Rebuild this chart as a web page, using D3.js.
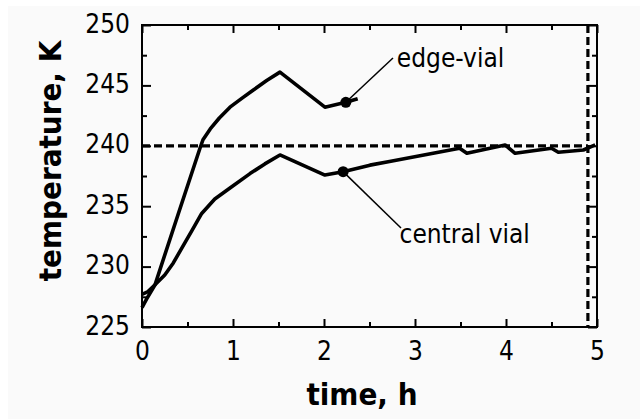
<!DOCTYPE html>
<html><head><meta charset="utf-8">
<script src="https://cdn.jsdelivr.net/npm/d3@7"></script>
<style>
html,body{margin:0;padding:0;background:#fff;}
svg{display:block;}
text{font-family:"DejaVu Sans Condensed","DejaVu Sans",sans-serif;fill:#000;}
</style></head><body>
<svg id="c" width="640" height="419"></svg>
<script>
// ---- data ----
const edgeTime = [0, 0.05, 0.143, 0.4, 0.637, 0.67, 0.75, 0.85, 0.967, 1.1, 1.22, 1.37, 1.516, 2.01, 2.24, 2.37];
const edgeTemp = [226.6, 227.3, 228.5, 234.4, 239.8, 240.5, 241.4, 242.3, 243.2, 243.95, 244.6, 245.4, 246.1, 243.2, 243.6, 243.9];
const centralTime = [0, 0.06, 0.143, 0.25, 0.344, 0.45, 0.55, 0.656, 0.8, 0.967, 1.187, 1.35, 1.516, 2.01, 2.21, 2.505, 2.72, 3.49, 3.57, 3.99, 4.10, 4.50, 4.575, 4.85, 4.98];
const centralTemp = [227.7, 227.9, 228.5, 229.3, 230.3, 231.7, 233.0, 234.4, 235.6, 236.5, 237.7, 238.5, 239.24, 237.58, 237.86, 238.4, 238.7, 239.8, 239.38, 240.07, 239.38, 239.8, 239.46, 239.65, 240.07];
const markerTime = [2.24, 2.21];
const markerTemp = [243.6, 237.86];
const labelText = ["edge-vial", "central vial"];
const labelTime = [2.80, 2.83];
const labelTemp = [246.5, 231.95];
const leaderTime = [2.758, 2.846];
const leaderTemp = [247.27, 233.2];
const refTemp = 240;
const refTime = 4.9;
const xTicks = [0, 1, 2, 3, 4, 5];
const yTicks = [225, 230, 235, 240, 245, 250];
const xMinor = [0.5, 1.5, 2.5, 3.5, 4.5];
const yMinor = [227.5, 232.5, 237.5, 242.5, 247.5];
const xTitle = "time, h";
const yTitle = "temperature, K";

// ---- layout ----
const svg = d3.select("#c");
svg.append("rect").attr("x", 8).attr("y", 6).attr("width", 632).attr("height", 413).attr("fill", "#fafafa");
const L = 142, R = 597, T = 25, B = 327;
const x = d3.scaleLinear().domain([0, 5]).range([L, R]);
const y = d3.scaleLinear().domain([225, 250]).range([B, T]);

// reference dashed lines
svg.append("line").attr("x1", x(0)).attr("x2", x(refTime)).attr("y1", y(refTemp)).attr("y2", y(refTemp))
  .attr("stroke", "#000").attr("stroke-width", 3.2).attr("stroke-dasharray", "8,4");
svg.append("line").attr("x1", x(refTime)).attr("x2", x(refTime)).attr("y1", T).attr("y2", B)
  .attr("stroke", "#000").attr("stroke-width", 3.2).attr("stroke-dasharray", "8,4");

// curves
const line = d3.line().x(d => x(d[0])).y(d => y(d[1]));
const edge = edgeTime.map((t, i) => [t, edgeTemp[i]]);
const central = centralTime.map((t, i) => [t, centralTemp[i]]);
[edge, central].forEach(s => {
  svg.append("path").attr("d", line(s)).attr("fill", "none").attr("stroke", "#000")
    .attr("stroke-width", 3.6).attr("stroke-linejoin", "round");
});

// leaders, markers, labels
markerTime.forEach((t, i) => {
  svg.append("line").attr("x1", x(t)).attr("y1", y(markerTemp[i]))
    .attr("x2", x(leaderTime[i])).attr("y2", y(leaderTemp[i]))
    .attr("stroke", "#000").attr("stroke-width", 1.5);
  svg.append("circle").attr("cx", x(t)).attr("cy", y(markerTemp[i])).attr("r", 5.5).attr("fill", "#000");
  svg.append("text").attr("x", x(labelTime[i])).attr("y", y(labelTemp[i]))
    .attr("font-size", 26).text(labelText[i]);
});

// axes
function styleAxis(g) {
  g.select(".domain").remove();
  g.selectAll(".tick line").attr("stroke", "#000").attr("stroke-width", 2);
}
svg.append("g").attr("transform", `translate(0,${B})`)
  .call(d3.axisBottom(x).tickValues(xTicks).tickSize(-8).tickPadding(0).tickFormat(d3.format("d")))
  .call(styleAxis)
  .call(g => g.selectAll(".tick text").attr("y", 33).attr("dy", null).attr("font-size", 26).attr("font-family", null));
svg.append("g").attr("transform", `translate(0,${B})`)
  .call(d3.axisBottom(x).tickValues(xMinor).tickSize(-5).tickFormat(""))
  .call(styleAxis);
svg.append("g").attr("transform", `translate(0,${T})`)
  .call(d3.axisTop(x).tickValues(xTicks).tickSize(-8).tickFormat(""))
  .call(styleAxis);
svg.append("g").attr("transform", `translate(0,${T})`)
  .call(d3.axisTop(x).tickValues(xMinor).tickSize(-5).tickFormat(""))
  .call(styleAxis);
svg.append("g").attr("transform", `translate(${L},0)`)
  .call(d3.axisLeft(y).tickValues(yTicks).tickSize(-9).tickPadding(0).tickFormat(d3.format("d")))
  .call(styleAxis)
  .call(g => g.selectAll(".tick text").attr("x", -12).attr("dy", "0.27em").attr("font-size", 26).attr("font-family", null));
svg.append("g").attr("transform", `translate(${L},0)`)
  .call(d3.axisLeft(y).tickValues(yMinor).tickSize(-5).tickFormat(""))
  .call(styleAxis);
svg.append("g").attr("transform", `translate(${R},0)`)
  .call(d3.axisRight(y).tickValues(yTicks).tickSize(-9).tickFormat(""))
  .call(styleAxis);
svg.append("g").attr("transform", `translate(${R},0)`)
  .call(d3.axisRight(y).tickValues(yMinor).tickSize(-5).tickFormat(""))
  .call(styleAxis);

// frame
svg.append("rect").attr("x", L).attr("y", T).attr("width", R - L).attr("height", B - T)
  .attr("fill", "none").attr("stroke", "#000").attr("stroke-width", 2);

// titles
svg.append("text").attr("x", 362).attr("y", 405).attr("text-anchor", "middle")
  .attr("font-size", 31).attr("font-weight", "bold").text(xTitle);
svg.append("text").attr("transform", "translate(61,161) rotate(-90)").attr("text-anchor", "middle")
  .attr("font-size", 31).attr("font-weight", "bold").text(yTitle);
</script>
</body></html>
